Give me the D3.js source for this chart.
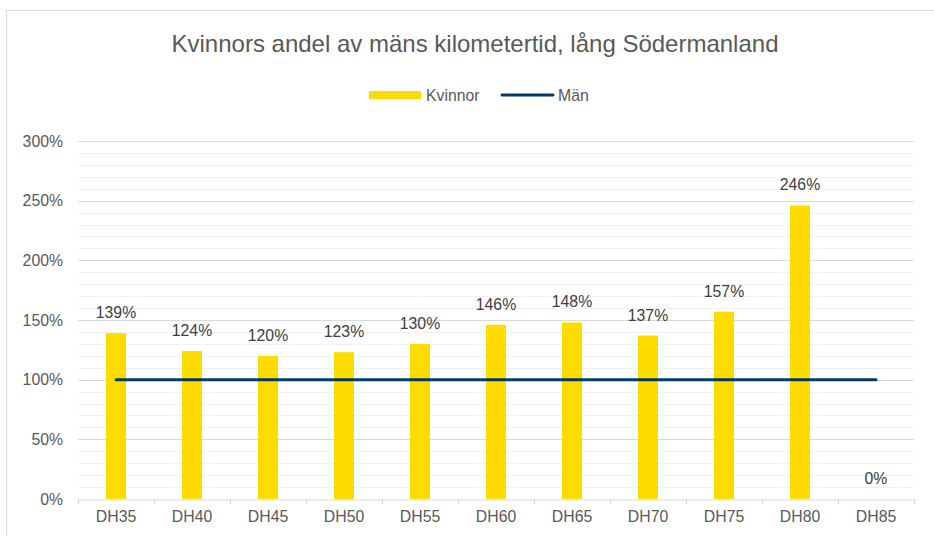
<!DOCTYPE html>
<html lang="sv">
<head>
<meta charset="UTF-8">
<title>Kvinnors andel av mäns kilometertid</title>
<script src="https://cdn.jsdelivr.net/npm/d3@7"></script>
<style>
    body { margin: 0; background: #fff; }
    text { font-family: "Liberation Sans", Arial, sans-serif; }
</style>
</head>
<body>
<svg id="chart" width="934" height="536"></svg>
<script>
    // data
    const categories = ["DH35", "DH40", "DH45", "DH50", "DH55", "DH60", "DH65", "DH70", "DH75", "DH80", "DH85"];
    const kvinnor = [139, 124, 120, 123, 130, 146, 148, 137, 157, 246, 0];
    const man = [100, 100, 100, 100, 100, 100, 100, 100, 100, 100, 100];
    const yTicks = [0, 50, 100, 150, 200, 250, 300];

    const svg = d3.select("#chart");
    const W = 934, H = 536;
    const m = { left: 78, right: 20, top: 141, bottom: 37 };
    const fs = "15.8px";

    // outer chart border
    svg.append("rect")
        .attr("x", 6.5).attr("y", 10.5)
        .attr("width", 940).attr("height", 540)
        .attr("fill", "#fff").attr("stroke", "#d9d9d9");

    const x = d3.scaleBand().domain(categories).range([m.left, W - m.right]);
    const y = d3.scaleLinear().domain([0, 300]).range([H - m.bottom, m.top]);

    // minor grid every 10%
    svg.append("g").selectAll("line")
        .data(d3.range(10, 300, 10).filter(v => v % 50 !== 0))
        .join("line")
        .attr("x1", m.left).attr("x2", W - m.right)
        .attr("y1", d => Math.round(y(d)) + 0.5).attr("y2", d => Math.round(y(d)) + 0.5)
        .attr("stroke", "#f0f0f0").attr("stroke-width", 1);

    // major grid
    svg.append("g").selectAll("line")
        .data(yTicks.filter(v => v > 0))
        .join("line")
        .attr("x1", m.left).attr("x2", W - m.right)
        .attr("y1", d => Math.round(y(d)) + 0.5).attr("y2", d => Math.round(y(d)) + 0.5)
        .attr("stroke", "#d9d9d9").attr("stroke-width", 1);

    // y axis labels
    const yAxis = svg.append("g")
        .attr("transform", `translate(${m.left},0)`)
        .call(d3.axisLeft(y).tickValues(yTicks).tickFormat(d => d + "%").tickSize(0).tickPadding(15));
    yAxis.select(".domain").remove();
    yAxis.selectAll("text")
        .attr("fill", "#595959").style("font-size", fs)
        .style("font-family", "'Liberation Sans', Arial, sans-serif");

    // bars
    const bw = 20;
    svg.append("g").selectAll("rect")
        .data(kvinnor)
        .join("rect")
        .attr("x", (d, i) => x(categories[i]) + x.bandwidth() / 2 - bw / 2)
        .attr("width", bw)
        .attr("y", d => y(d))
        .attr("height", d => y(0) - y(d))
        .attr("fill", "#ffdc00");

    // x axis
    const xAxis = svg.append("g")
        .attr("transform", `translate(0,${Math.round(y(0)) + 0.5})`)
        .call(d3.axisBottom(x).tickSize(0).tickPadding(11));
    xAxis.select(".domain").attr("stroke", "#d9d9d9");
    xAxis.selectAll("text")
        .attr("fill", "#595959").style("font-size", fs)
        .style("font-family", "'Liberation Sans', Arial, sans-serif");
    svg.append("g").selectAll("line")
        .data(d3.range(categories.length + 1))
        .join("line")
        .attr("x1", i => Math.round(m.left + i * x.step()) + 0.5)
        .attr("x2", i => Math.round(m.left + i * x.step()) + 0.5)
        .attr("y1", y(0)).attr("y2", y(0) + 5)
        .attr("stroke", "#d9d9d9");

    // Män line
    const line = d3.line()
        .x((d, i) => x(categories[i]) + x.bandwidth() / 2)
        .y(d => y(d));
    svg.append("path")
        .datum(man)
        .attr("d", line)
        .attr("fill", "none")
        .attr("stroke", "#003a66")
        .attr("stroke-width", 3)
        .attr("stroke-linecap", "round");

    // data labels
    svg.append("g").selectAll("text")
        .data(kvinnor)
        .join("text")
        .attr("x", (d, i) => x(categories[i]) + x.bandwidth() / 2)
        .attr("y", d => y(d) - 15)
        .attr("text-anchor", "middle")
        .attr("fill", "#404040")
        .style("font-size", fs)
        .text(d => d + "%");

    // title
    svg.append("text")
        .attr("x", 475).attr("y", 52)
        .attr("text-anchor", "middle")
        .attr("fill", "#595959")
        .style("font-size", "24px")
        .text("Kvinnors andel av mäns kilometertid, lång Södermanland");

    // legend
    const lg = svg.append("g");
    lg.append("rect").attr("x", 369).attr("y", 91).attr("width", 52).attr("height", 8).attr("fill", "#ffdc00");
    lg.append("text").attr("x", 426).attr("y", 100.5).attr("fill", "#595959").style("font-size", fs).text("Kvinnor");
    lg.append("line").attr("x1", 502).attr("x2", 553).attr("y1", 95).attr("y2", 95)
        .attr("stroke", "#003a66").attr("stroke-width", 3).attr("stroke-linecap", "round");
    lg.append("text").attr("x", 558).attr("y", 100.5).attr("fill", "#595959").style("font-size", fs).text("Män");
</script>
</body>
</html>
